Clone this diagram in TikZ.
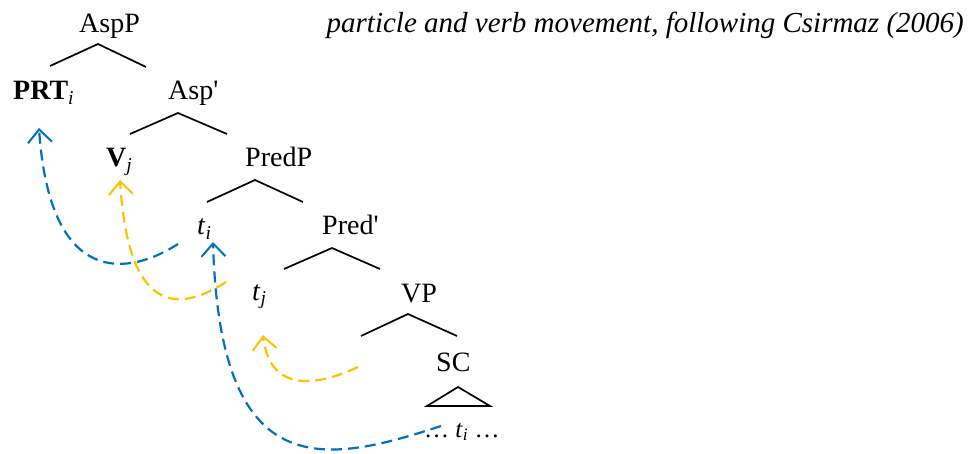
\documentclass[tikz,border=0pt]{standalone}
\usepackage{fontspec}
\setmainfont{Liberation Serif}
\usetikzlibrary{arrows.meta}
\definecolor{moveblue}{HTML}{0070C0}
\definecolor{moveyellow}{HTML}{FFC000}
\tikzset{
  >={Straight Barb[length=13pt,width=24pt,line width=2pt]},
  cat/.style={
    font=\fontsize{28}{32}\selectfont,
    inner sep=0pt, anchor=base west},
  branch/.style={draw=black, line width=1.7pt},
  move/.style={->, line width=2.2pt, dash pattern=on 11pt off 6pt},
}

\begin{document}
\begin{tikzpicture}[x=1pt, y=-1pt]
     \useasboundingbox (0,0) rectangle (971,454);
     \node[cat] (AspP)    at (79,33)   {AspP};
     \node[cat] (PRT)     at (13,100)  {\textbf{PRT}\textsubscript{\textit{i}}};
     \node[cat] (AspBar)  at (168,100) {Asp\textquotesingle};
     \node[cat] (V)       at (106,167) {\textbf{V}\textsubscript{\textit{j}}};
     \node[cat] (PredP)   at (245,167) {PredP};
     \node[cat] (ti)      at (197,235) {\textit{t}\textsubscript{\textit{i}}};
     \node[cat] (PredBar) at (322,235) {Pred\textquotesingle};
     \node[cat] (tj)      at (252,300) {\textit{t}\textsubscript{\textit{j}}};
     \node[cat] (VP)      at (401,302) {VP};
     \node[cat] (SC)      at (436,371) {SC};
     \node[cat, font=\fontsize{25}{30}\selectfont] (trace) at (424,437)
          {… \textit{t}\textsubscript{\textit{i}} …};
     \node[cat, font=\itshape\fontsize{29}{33}\selectfont, anchor=base east] (title) at (964,33)
          {particle and verb movement, following Csirmaz (2006)};
     % branches
     \path (98,44) coordinate (aspPTop) (50,66) coordinate (aspPL) (146,67) coordinate (aspPR);
     \path (178,113) coordinate (aspBarTop) (130,134) coordinate (aspBarL) (227,134) coordinate (aspBarR);
     \path (255,180) coordinate (predPTop) (207,202) coordinate (predPL) (303,202) coordinate (predPR);
     \path (332,248) coordinate (predBarTop) (284,269) coordinate (predBarL) (380,269) coordinate (predBarR);
     \path (408,314) coordinate (vpTop) (361,336) coordinate (vpL) (457,336) coordinate (vpR);
     \draw[branch] (aspPL) -- (aspPTop) -- (aspPR);
     \draw[branch] (aspBarL) -- (aspBarTop) -- (aspBarR);
     \draw[branch] (predPL) -- (predPTop) -- (predPR);
     \draw[branch] (predBarL) -- (predBarTop) -- (predBarR);
     \draw[branch] (vpL) -- (vpTop) -- (vpR);
     \draw[branch] (427,406) -- (458,387) -- (490,406) -- cycle;
     % movement arrows
     \path (178,244) coordinate (tiTail) (39,128) coordinate (prtFoot);
     \path (226,282) coordinate (tjTail) (120,180) coordinate (vFoot);
     \path (441,426) coordinate (traceTail) (213,242) coordinate (tiFoot);
     \path (358,367) coordinate (vpTail) (263,335) coordinate (tjFoot);
     \draw[move, moveblue] (tiTail) .. controls (130,275) and (50,290) .. (prtFoot);
     \draw[move, moveyellow] (tjTail) .. controls (175,315) and (128,310) .. (vFoot);
     \draw[move, moveblue] (traceTail) .. controls (320,466) and (220,482) .. (tiFoot);
     \draw[move, moveyellow] (vpTail) .. controls (320,385) and (270,395) .. (tjFoot);
\end{tikzpicture}
\end{document}
